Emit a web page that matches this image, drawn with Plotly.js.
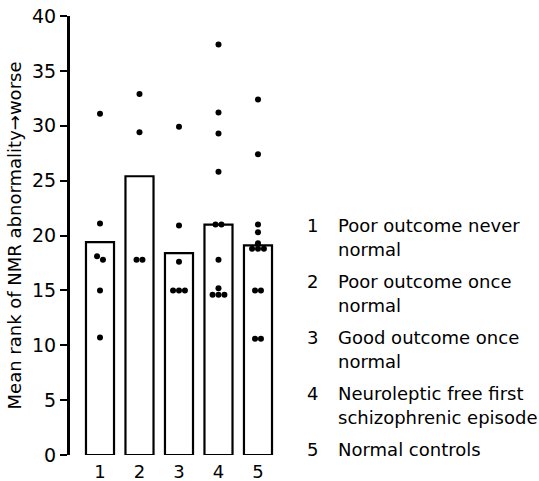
<!DOCTYPE html>
<html>
<head>
<meta charset="utf-8">
<script src="https://cdn.plot.ly/plotly-3.0.1.min.js"></script>
<style>html,body{margin:0;padding:0;background:#fff;}#chart{width:539px;height:481px;}</style>
</head>
<body>
<div id="chart"></div>
<script>
// ---- data ----
var groups = [1, 2, 3, 4, 5];
var tickLabels = ["1", "2", "3", "4", "5"];
var meanRank = [19.4, 25.4, 18.4, 21.0, 19.1];
var group1 = [31.1, 21.1, 18.1, 17.8, 15.0, 10.7];
var group2 = [32.9, 29.4, 17.8, 17.8];
var group3 = [29.9, 20.9, 17.6, 15.0, 15.0, 15.0];
var group4 = [37.4, 31.2, 29.3, 25.8, 21.0, 21.0, 17.8, 15.2, 14.6, 14.6, 14.6];
var group5 = [32.4, 27.4, 21.0, 20.3, 19.3, 18.8, 18.8, 18.8, 15.0, 15.0, 10.6, 10.6];
var groupLabels = [
  "Poor outcome never|normal",
  "Poor outcome once|normal",
  "Good outcome once|normal",
  "Neuroleptic free first|schizophrenic episode",
  "Normal controls"
];
var yTitle = "Mean rank of NMR abnormality\u2192worse";

// ---- build dot positions (spread near-equal values side by side) ----
var allGroups = [group1, group2, group3, group4, group5];
var dotX = [], dotY = [];
var step = 0.15;
allGroups.forEach(function (vals, gi) {
  var sorted = vals.slice().sort(function (a, b) { return b - a; });
  var clusters = [];
  sorted.forEach(function (v) {
    var c = clusters[clusters.length - 1];
    if (c && Math.abs(c[c.length - 1] - v) <= 0.35) c.push(v); else clusters.push([v]);
  });
  clusters.forEach(function (c) {
    c.forEach(function (v, i) {
      dotX.push(groups[gi] + (i - (c.length - 1) / 2) * step);
      dotY.push(v);
    });
  });
});

var FONT = "DejaVu Sans, sans-serif";
var W = 539, H = 481;
var mL = 70, mR = 257, mT = 16, mB = 26;
var pw = W - mL - mR, ph = H - mT - mB;
function px2x(px) { return (px - mL) / pw; }
function py2y(py) { return (H - mB - py) / ph; }

var annotations = [];
var itemY = [225, 281, 337, 393, 449];
groupLabels.forEach(function (lab, i) {
  annotations.push({
    xref: "paper", yref: "paper", x: px2x(312), y: py2y(itemY[i]),
    xanchor: "center", yanchor: "middle", showarrow: false,
    text: tickLabels[i], font: {family: FONT, size: 18, color: "#000"}
  });
  lab.split("|").forEach(function (line, j) {
    annotations.push({
      xref: "paper", yref: "paper", x: px2x(336), y: py2y(itemY[i] + j * 24),
      xanchor: "left", yanchor: "middle", showarrow: false,
      text: line, font: {family: FONT, size: 18, color: "#000"}
    });
  });
});

var traces = [
  {
    type: "bar", x: groups, y: meanRank, width: 0.71,
    marker: {color: "#fff", line: {color: "#000", width: 2.2}},
    hoverinfo: "skip"
  },
  {
    type: "scatter", mode: "markers", x: dotX, y: dotY,
    marker: {color: "#000", size: 6},
    cliponaxis: false
  }
];

var layout = {
  width: W, height: H,
  margin: {l: mL, r: mR, t: mT, b: mB, pad: 0},
  paper_bgcolor: "#fff", plot_bgcolor: "#fff",
  showlegend: false,
  font: {family: FONT, size: 18, color: "#000"},
  xaxis: {
    range: [0.2405, 5.608], tickvals: groups, ticktext: tickLabels,
    showline: false, showgrid: false, zeroline: false, ticks: "",
    ticklabelstandoff: 4,
    tickfont: {family: FONT, size: 18, color: "#000"}, fixedrange: true
  },
  yaxis: {
    range: [0, 40], tickvals: [0, 5, 10, 15, 20, 25, 30, 35, 40],
    showline: true, linecolor: "#000", linewidth: 3,
    ticks: "outside", ticklen: 7, tickwidth: 2, tickcolor: "#000",
    showgrid: false, zeroline: false,
    tickfont: {family: FONT, size: 19, color: "#000"},
    title: {text: yTitle, font: {family: FONT, size: 18, color: "#000"}, standoff: 6},
    fixedrange: true
  },
  annotations: annotations
};

Plotly.newPlot("chart", traces, layout, {displayModeBar: false, staticPlot: true});
</script>
</body>
</html>
